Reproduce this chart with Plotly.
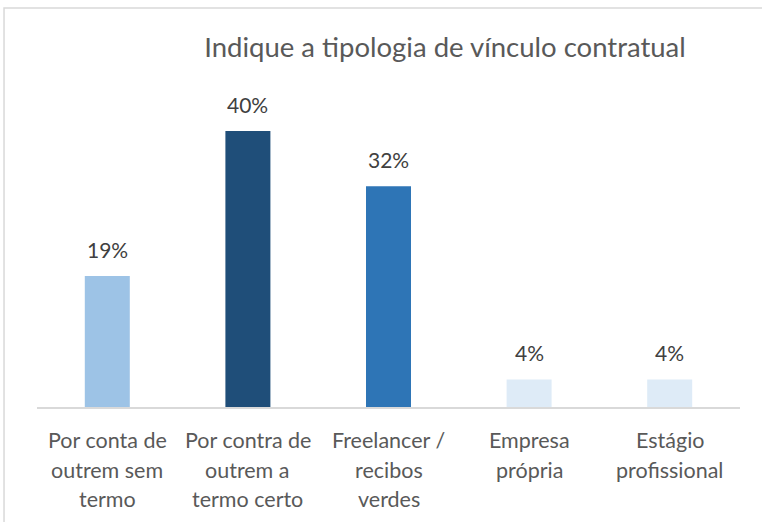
import plotly.graph_objects as go

category_lines = [["Por conta de", "outrem sem", "termo"],
                  ["Por contra de", "outrem a", "termo certo"],
                  ["Freelancer /", "recibos", "verdes"],
                  ["Empresa", "própria"],
                  ["Estágio", "profissional"]]
values = [19, 40, 32, 4, 4]
labels = ["19%", "40%", "32%", "4%", "4%"]
colors = ["#9DC3E6", "#1F4E79", "#2E75B6", "#DEEBF7", "#DEEBF7"]

FONT = "Lato"
GREY = "#595959"
xs = list(range(len(values)))

fig = go.Figure(go.Bar(
    x=xs, y=values, marker=dict(color=colors, line=dict(width=0)),
    hoverinfo="skip",
))

annotations = []
for i, (v, lab) in enumerate(zip(values, labels)):
    annotations.append(dict(x=i, y=v, xref="x", yref="y", text=lab, showarrow=False,
                            yanchor="bottom", yshift=12,
                            font=dict(family=FONT, size=21, color="#404040")))
for i, lines in enumerate(category_lines):
    for k, line in enumerate(lines):
        annotations.append(dict(x=i, y=0, xref="x", yref="paper", text=line, showarrow=False,
                                yanchor="middle", yshift=-(33 + 29.5 * k),
                                font=dict(family=FONT, size=21.5, color=GREY)))

fig.update_layout(
    width=762, height=522,
    margin=dict(l=37, r=22, t=100, b=115),
    paper_bgcolor="white", plot_bgcolor="white",
    bargap=0.68,
    showlegend=False,
    font=dict(family=FONT, color=GREY),
    title=dict(text="Indique a tipologia de vínculo contratual", x=0.584, xanchor="center",
               y=1 - 47 / 522, yanchor="middle", yref="container",
               font=dict(family=FONT, size=27.5, color=GREY)),
    xaxis=dict(tickmode="array", tickvals=xs, showticklabels=False, showgrid=False,
               showline=True, linecolor="#D9D9D9", linewidth=1.5, ticks="",
               range=[-0.5, 4.5]),
    yaxis=dict(range=[0, 44.5], visible=False, showgrid=False),
    annotations=annotations,
    shapes=[dict(type="rect", xref="paper", yref="paper", x0=-0.0469, x1=1.2, y0=-0.6, y1=1.2997,
                 line=dict(color="#D9D9D9", width=1.5), layer="below")],
)

fig.write_html("out.html", config={"displayModeBar": False},
               post_script="document.body.style.margin='0';")
